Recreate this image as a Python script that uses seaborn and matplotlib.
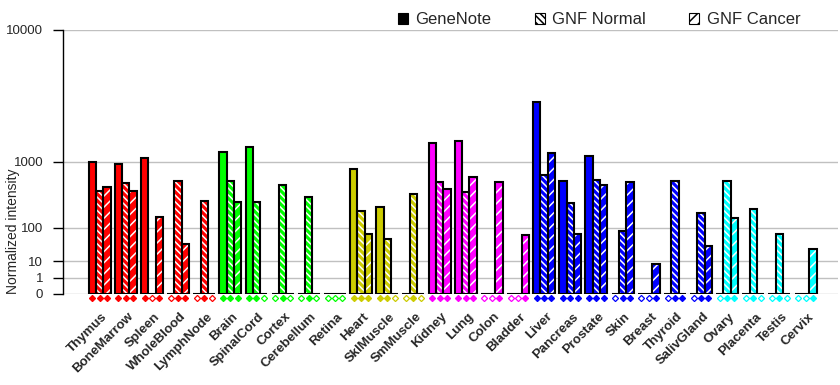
import numpy as np
import pandas as pd
import seaborn as sns
import matplotlib
matplotlib.use('Agg')
from matplotlib import pyplot as plt
from matplotlib.patches import Patch, Rectangle
from matplotlib.transforms import ScaledTranslation

# values
tissues = ['Thymus', 'BoneMarrow', 'Spleen', 'WholeBlood', 'LymphNode',
           'Brain', 'SpinalCord', 'Cortex', 'Cerebellum', 'Retina',
           'Heart', 'SkIMuscle', 'SmMuscle',
           'Kidney', 'Lung', 'Colon', 'Bladder',
           'Liver', 'Pancreas', 'Prostate', 'Skin', 'Breast', 'Thyroid', 'SalivGland',
           'Ovary', 'Placenta', 'Testis', 'Cervix']
genenote = [1000, 960, 1110, 0, 0, 1280, 1420, 0, 0, 0, 830, 250, 0,
            1550, 1640, 0, 0, 3490, 600, 1170, 0, 0, 0, 0, 0, 0, 0, 0]
gnf_normal = [440, 570, 0, 600, 310, 600, 300, 525, 355, 0, 217, 54, 400,
              585, 425, 0, 0, 715, 295, 620, 87, 0, 600, 195, 600, 234, 73, 0]
gnf_cancer = [500, 440, 170, 40, 0, 305, 0, 0, 0, 0, 74, 0, 0,
              470, 675, 585, 70, 1250, 74, 535, 585, 7.5, 0, 35, 162, 0, 0, 27]
# present calls (1 = filled diamond) for GeneNote / GNF Normal / GNF Cancer
calls = ['111', '111', '101', '011', '010', '111', '110', '010', '010', '000',
         '111', '110', '010', '111', '111', '001', '001', '111', '111', '111',
         '011', '001', '011', '011', '011', '010', '010', '001']
sources = ['GeneNote', 'GNF Normal', 'GNF Cancer']

# colour per tissue group
group_sizes = [5, 5, 3, 4, 7, 4]
group_cols = ['#ff0000', '#00ff00', '#cccc00', '#ff00ff', '#0000ff', '#00ffff']
tissue_cols = [c for c, n in zip(group_cols, group_sizes) for _ in range(n)]
hatches = ['', '\\\\\\\\\\', '///']

df = pd.DataFrame({
    'tissue': tissues * 3,
    'source': np.repeat(sources, len(tissues)),
    'value': genenote + gnf_normal + gnf_cancer,
})

sns.set_style('white')
plt.rcParams['font.family'] = ['Liberation Sans', 'DejaVu Sans']
plt.rcParams['hatch.linewidth'] = 1.1

fig = plt.figure(figsize=(8.4, 3.85), dpi=100)
ax = fig.add_axes([63 / 840, 1 - 294 / 385, 775 / 840, 264 / 385])

width = 0.84
sns.barplot(ax=ax, data=df, x='tissue', y='value', hue='source',
            order=tissues, hue_order=sources, width=width, gap=0,
            errorbar=None, legend=False)

# recolour bars by tissue, hatch by source, then add black outlines
for j, cont in enumerate(ax.containers):
    for i, bar in enumerate(cont):
        bar.set_facecolor(tissue_cols[i])
        bar.set_hatch(hatches[j])
        bar.set_edgecolor('white')
        bar.set_linewidth(0)
        ax.add_patch(Rectangle(bar.get_xy(), bar.get_width(), bar.get_height(),
                               fill=False, edgecolor='black', linewidth=1.5,
                               zorder=3))

# present/absent diamonds below the bars
step = width / 3
for i, c in enumerate(calls):
    for j, flag in enumerate(c):
        xpos = i + (j - 1) * step
        face = tissue_cols[i] if flag == '1' else 'white'
        ax.plot(xpos, -0.014, marker='D', ms=3.1, mfc=face, mec=tissue_cols[i],
                mew=0.9, transform=ax.get_xaxis_transform(), clip_on=False,
                zorder=4)

p = np.log10(2)


def fwd(v):
    v = np.asarray(v, dtype=float)
    return np.sign(v) * np.abs(v) ** p


def inv(s):
    s = np.asarray(s, dtype=float)
    return np.sign(s) * np.abs(s) ** (1 / p)


ax.set_yscale('function', functions=(fwd, inv))
ax.set_ylim(0, 10000)
ax.set_xlim(-1.4, 28.24)
yt = [0, 1, 10, 100, 1000, 10000]
ax.set_yticks(yt, [str(t) for t in yt])
ax.yaxis.grid(True, color='#c0c0c0', linewidth=1)
ax.set_axisbelow(True)
for s in ['top', 'right', 'bottom']:
    ax.spines[s].set_visible(False)
ax.spines['left'].set_color('black')
ax.spines['left'].set_linewidth(1)
ax.tick_params(axis='y', length=7.2, width=1, color='black', direction='out',
               left=True, pad=7, labelsize=9.5)
ax.tick_params(axis='x', length=0, pad=15)
ax.set_xlabel('')
ax.set_ylabel('Normalized intensity', fontsize=10, va='center')
ax.yaxis.set_label_coords(-0.0645, 0.239)

offset = ScaledTranslation(6 / 100, 0, fig.dpi_scale_trans)
for lab in ax.get_xticklabels():
    lab.set_rotation(45)
    lab.set_ha('right')
    lab.set_va('center')
    lab.set_rotation_mode('anchor')
    lab.set_fontsize(9.5)
    lab.set_fontweight('bold')
    lab.set_transform(lab.get_transform() + offset)

# legend at the top
handles = [Patch(facecolor='black', edgecolor='black', linewidth=0.8)]
for h in hatches[1:]:
    handles.append(Patch(facecolor='white', edgecolor='black', hatch=h, linewidth=0.8))
fig.legend(handles, sources, loc='center', bbox_to_anchor=(599 / 840, 1 - 20 / 385),
           ncol=3, frameon=False, fontsize=12, handlelength=0.6, handleheight=0.6,
           handletextpad=0.45, columnspacing=2.6)

fig.savefig('out.png', dpi=100)
